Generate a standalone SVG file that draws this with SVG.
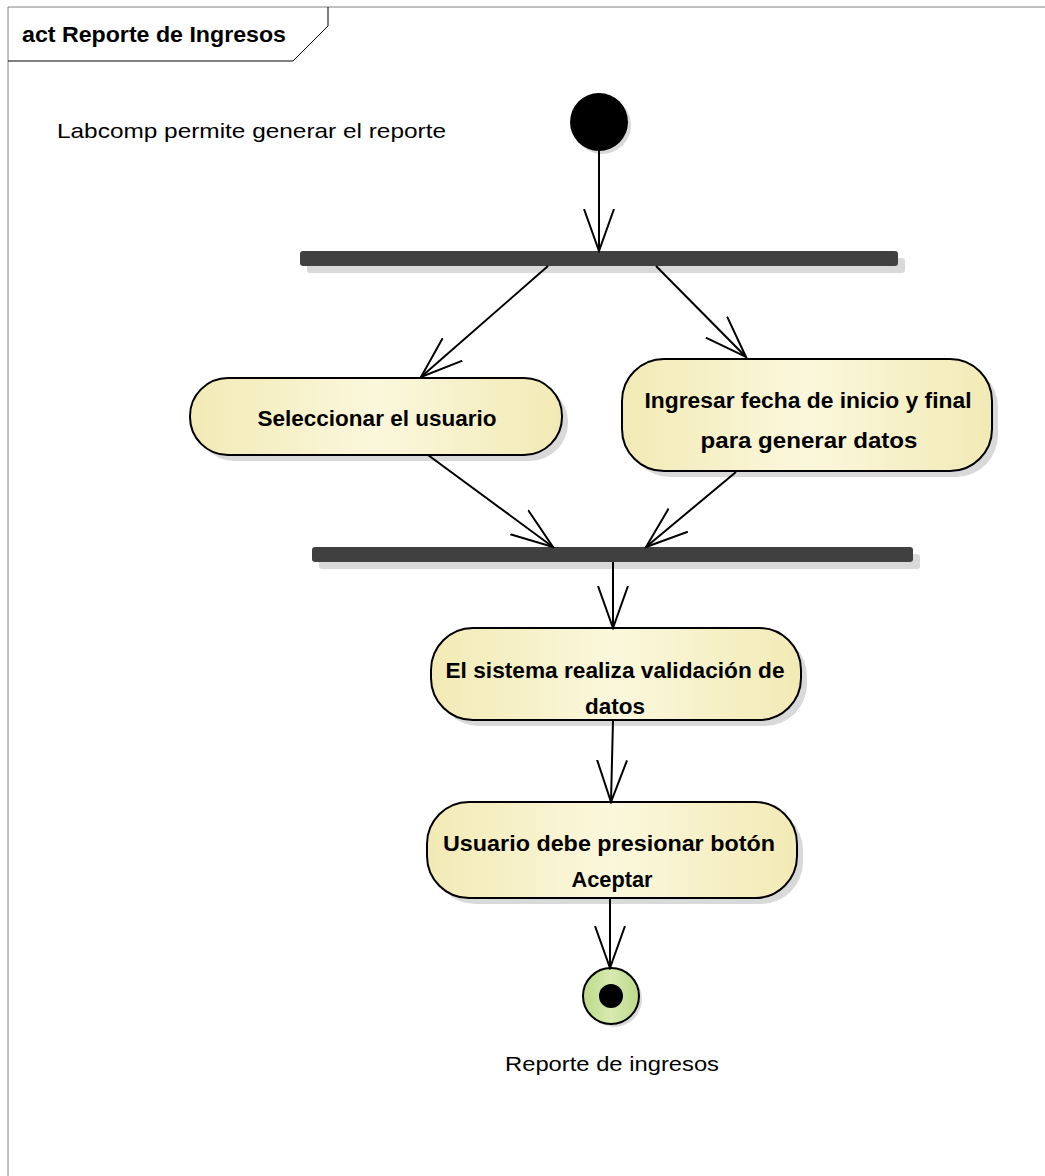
<svg xmlns="http://www.w3.org/2000/svg" width="1045" height="1176" viewBox="0 0 1045 1176">
<style>
.t{font-family:"Liberation Sans",Arial,sans-serif;fill:#000}
.b{font-weight:bold;font-size:22px}
.r{font-size:21px}
.act{fill:url(#ag);stroke:#000;stroke-width:2}
.sh{fill:#d9d9d9}
.bar{fill:#404040}
.e{stroke:#000;stroke-width:2;fill:none}
</style>
<defs>
<linearGradient id="ag" x1="0" y1="0" x2="1" y2="0">
<stop offset="0" stop-color="#f2eab5"/>
<stop offset="0.5" stop-color="#fbf7dc"/>
<stop offset="1" stop-color="#f2eab5"/>
</linearGradient>
<linearGradient id="fg" x1="0" y1="0" x2="1" y2="0">
<stop offset="0" stop-color="#bcd98a"/>
<stop offset="0.5" stop-color="#d8eab0"/>
<stop offset="1" stop-color="#bcd98a"/>
</linearGradient>
<marker id="arr" viewBox="0 0 44 32" refX="42" refY="16" markerWidth="44" markerHeight="32" markerUnits="userSpaceOnUse" orient="auto">
<path d="M0,1 L42,16 L0,31" fill="none" stroke="#000" stroke-width="2"/>
</marker>
</defs>
<rect width="1045" height="1176" fill="#fff"/>
<g id="frame">
<path d="M8,1176 V7 H1045" fill="none" stroke="#808080" stroke-width="1"/>
<path d="M8,61 H293 L328,26 V7" fill="none" stroke="#000" stroke-width="1"/>
<text class="t b" x="22" y="42" textLength="264" lengthAdjust="spacingAndGlyphs">act Reporte de Ingresos</text>
</g>
<g id="note">
<text class="t r" x="57" y="138" textLength="389" lengthAdjust="spacingAndGlyphs">Labcomp permite generar el reporte</text>
</g>
<g id="initial">
<circle cx="602" cy="125" r="29" class="sh"/>
<circle cx="599" cy="122" r="29" fill="#000"/>
</g>
<g id="fork1">
<rect x="307" y="258" width="598" height="15" rx="3" class="sh"/>
<rect x="300" y="251" width="598" height="15" rx="3" class="bar"/>
</g>
<g id="seleccionar">
<rect x="196" y="384" width="372" height="77" rx="38" class="sh"/>
<rect x="190" y="378" width="372" height="77" rx="38" class="act"/>
<text class="t b" x="377" y="426" text-anchor="middle" textLength="239" lengthAdjust="spacingAndGlyphs">Seleccionar el usuario</text>
</g>
<g id="ingresar">
<rect x="628" y="365" width="370" height="112" rx="42" class="sh"/>
<rect x="622" y="359" width="370" height="112" rx="42" class="act"/>
<text class="t b" x="808" y="408" text-anchor="middle" textLength="327" lengthAdjust="spacingAndGlyphs">Ingresar fecha de inicio y final</text>
<text class="t b" x="809" y="448" text-anchor="middle" textLength="217" lengthAdjust="spacingAndGlyphs">para generar datos</text>
</g>
<g id="fork2">
<rect x="319" y="554" width="601" height="15" rx="3" class="sh"/>
<rect x="312" y="547" width="601" height="15" rx="3" class="bar"/>
</g>
<g id="validacion">
<rect x="437" y="634" width="370" height="92" rx="42" class="sh"/>
<rect x="431" y="628" width="370" height="92" rx="42" class="act"/>
<text class="t b" x="615" y="678" text-anchor="middle" textLength="339" lengthAdjust="spacingAndGlyphs">El sistema realiza validación de</text>
<text class="t b" x="615" y="714" text-anchor="middle" textLength="60" lengthAdjust="spacingAndGlyphs">datos</text>
</g>
<g id="aceptar">
<rect x="433" y="808" width="370" height="96" rx="42" class="sh"/>
<rect x="427" y="802" width="370" height="96" rx="42" class="act"/>
<text class="t b" x="609" y="851" text-anchor="middle" textLength="332" lengthAdjust="spacingAndGlyphs">Usuario debe presionar botón</text>
<text class="t b" x="612" y="887" text-anchor="middle" textLength="81" lengthAdjust="spacingAndGlyphs">Aceptar</text>
</g>
<g id="final">
<circle cx="614" cy="999" r="28" class="sh"/>
<circle cx="611" cy="996" r="28" fill="url(#fg)" stroke="#000" stroke-width="2"/>
<circle cx="611" cy="996" r="12" fill="#000"/>
<text class="t r" x="612" y="1071" text-anchor="middle" textLength="214" lengthAdjust="spacingAndGlyphs">Reporte de ingresos</text>
</g>
<g id="edges">
<line class="e" x1="599" y1="151" x2="599" y2="251" marker-end="url(#arr)"/>
<line class="e" x1="548" y1="266" x2="421" y2="377" marker-end="url(#arr)"/>
<line class="e" x1="656" y1="266" x2="746" y2="357" marker-end="url(#arr)"/>
<line class="e" x1="428" y1="455" x2="553" y2="547" marker-end="url(#arr)"/>
<line class="e" x1="736" y1="472" x2="646" y2="547" marker-end="url(#arr)"/>
<line class="e" x1="613" y1="562" x2="613" y2="628" marker-end="url(#arr)"/>
<line class="e" x1="613" y1="720" x2="611" y2="802" marker-end="url(#arr)"/>
<line class="e" x1="610" y1="898" x2="610" y2="968" marker-end="url(#arr)"/>
</g>
</svg>
